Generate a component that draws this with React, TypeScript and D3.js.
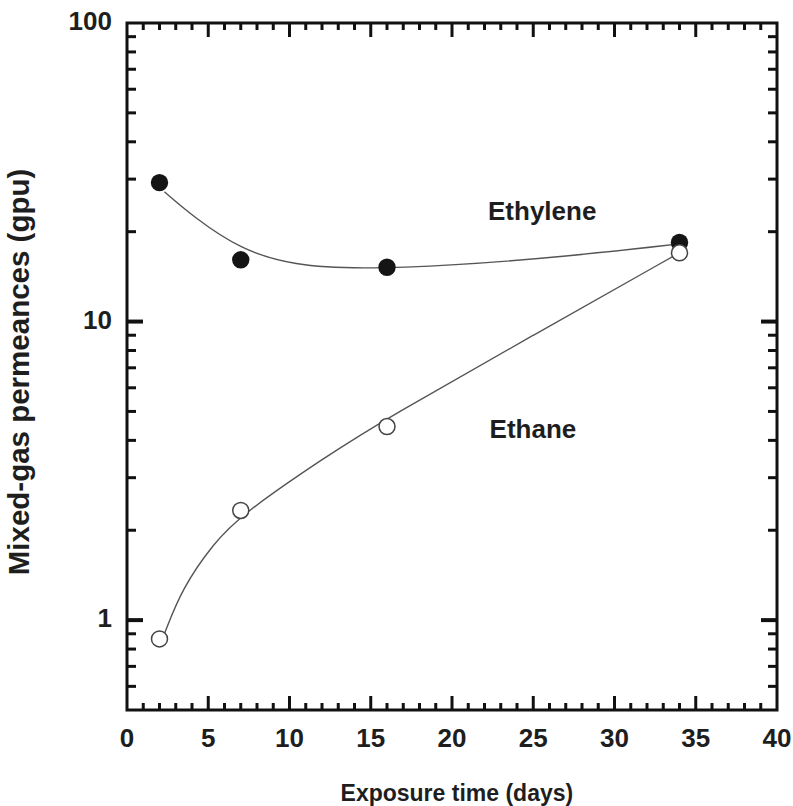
import React, { useEffect, useRef } from "react";
import * as d3 from "d3";

// measured points
const days = [2, 7, 16, 34];
const ethylene = [29.2, 16.1, 15.2, 18.4];
const ethane = [0.865, 2.33, 4.45, 17.0];

// hand-drawn fit lines
const ethyleneFitX = [2.3, 4.1, 7, 10.3, 14.3, 20, 27, 34];
const ethyleneFitY = [27.2, 22.4, 17.4, 15.4, 15.0, 15.4, 16.5, 18.2];
const ethaneFitX = [2.3, 3.4, 5.3, 7, 12.3, 16, 25, 34];
const ethaneFitY = [0.9, 1.28, 1.8, 2.25, 3.55, 4.75, 9.0, 17.0];

const xTicksMajor = [0, 5, 10, 15, 20, 25, 30, 35, 40];
const yTicksMajor = [1, 10, 100];

export default function App() {
  const ref = useRef<SVGSVGElement>(null);

  useEffect(() => {
    const svg = d3.select(ref.current);
    svg.selectAll("*").remove();

    const width = 793;
    const height = 806;
    const margin = { top: 23, right: 16, bottom: 96, left: 127 };
    const w = width - margin.left - margin.right;
    const h = height - margin.top - margin.bottom;
    const font = "'Liberation Sans', Arial, sans-serif";
    const ink = "#1e1e1e";

    svg.append("rect").attr("width", width).attr("height", height).attr("fill", "#fff");

    const g = svg.append("g").attr("transform", `translate(${margin.left},${margin.top})`);

    const x = d3.scaleLinear().domain([0, 40]).range([0, w]);
    const y = d3.scaleLog().domain([0.5, 100]).range([h, 0]);

    const xMinor = d3.range(0, 41, 1).filter((d) => d % 5 !== 0);
    const yMinor = [0.6, 0.7, 0.8, 0.9, ...d3.range(2, 10), ...d3.range(20, 100, 10)];

    const tickColor = "#111";

    // x ticks (bottom + top mirrored)
    const xt = g.append("g");
    const addXTicks = (vals: number[], len: number) => {
      vals.forEach((v) => {
        if (v === 0 || v === 40) return;
        xt.append("line").attr("x1", x(v)).attr("x2", x(v)).attr("y1", h).attr("y2", h - len)
          .attr("stroke", tickColor).attr("stroke-width", 3);
        xt.append("line").attr("x1", x(v)).attr("x2", x(v)).attr("y1", 0).attr("y2", len)
          .attr("stroke", tickColor).attr("stroke-width", 3);
      });
    };
    addXTicks(xMinor, 7);
    addXTicks(xTicksMajor, 14);

    // y ticks (left + right mirrored)
    const yt = g.append("g");
    const addYTicks = (vals: number[], len: number, sw: number) => {
      vals.forEach((v) => {
        if (v === 100) return;
        yt.append("line").attr("x1", 0).attr("x2", len).attr("y1", y(v)).attr("y2", y(v))
          .attr("stroke", tickColor).attr("stroke-width", sw);
        yt.append("line").attr("x1", w).attr("x2", w - len).attr("y1", y(v)).attr("y2", y(v))
          .attr("stroke", tickColor).attr("stroke-width", sw);
      });
    };
    addYTicks(yMinor, 9, 3);
    addYTicks(yTicksMajor, 16, 4);

    // frame
    g.append("rect").attr("width", w).attr("height", h).attr("fill", "none")
      .attr("stroke", tickColor).attr("stroke-width", 3);

    // tick labels
    g.append("g").selectAll("text").data(xTicksMajor).enter().append("text")
      .attr("x", (d) => x(d)).attr("y", h + 37)
      .attr("text-anchor", "middle")
      .style("font", `bold 26px ${font}`).attr("fill", ink)
      .text((d) => d);

    g.append("g").selectAll("text").data(yTicksMajor).enter().append("text")
      .attr("x", -15).attr("y", (d) => y(d) - 2).attr("dy", "0.36em")
      .attr("text-anchor", "end")
      .style("font", `bold 26px ${font}`).attr("fill", ink)
      .text((d) => d);

    // axis titles
    g.append("text").attr("x", x(20.3)).attr("y", h + 83).attr("dy", "0.36em")
      .attr("text-anchor", "middle")
      .style("font", `bold 23px ${font}`).attr("fill", ink)
      .text("Exposure time (days)");
    g.append("text")
      .attr("transform", `translate(${-98},${372 - margin.top}) rotate(-90)`)
      .attr("text-anchor", "middle")
      .style("font", `bold 29.5px ${font}`).attr("fill", ink)
      .text("Mixed-gas permeances (gpu)");

    // fit lines
    const line = d3.line<[number, number]>()
      .x((d) => x(d[0])).y((d) => y(d[1]))
      .curve(d3.curveBasis);
    g.append("path")
      .datum(ethyleneFitX.map((v, i) => [v, ethyleneFitY[i]] as [number, number]))
      .attr("d", line).attr("fill", "none").attr("stroke", "#555").attr("stroke-width", 1.4);
    g.append("path")
      .datum(ethaneFitX.map((v, i) => [v, ethaneFitY[i]] as [number, number]))
      .attr("d", line).attr("fill", "none").attr("stroke", "#555").attr("stroke-width", 1.4);

    // markers
    g.append("g").selectAll("circle").data(days).enter().append("circle")
      .attr("cx", (d) => x(d)).attr("cy", (d, i) => y(ethylene[i])).attr("r", 8.7)
      .attr("fill", "#151515");
    g.append("g").selectAll("circle").data(days).enter().append("circle")
      .attr("cx", (d) => x(d)).attr("cy", (d, i) => y(ethane[i])).attr("r", 8)
      .attr("fill", "#fff").attr("stroke", "#444").attr("stroke-width", 1.5);

    // series labels
    g.append("text").attr("x", x(25.55)).attr("y", 220 - margin.top)
      .attr("text-anchor", "middle").style("font", `bold 26px ${font}`).attr("fill", ink)
      .text("Ethylene");
    g.append("text").attr("x", x(24.98)).attr("y", 438 - margin.top)
      .attr("text-anchor", "middle").style("font", `bold 26px ${font}`).attr("fill", ink)
      .text("Ethane");
  }, []);

  return (
    <svg ref={ref} width={793} height={806}
      style={{ position: "absolute", left: 0, top: 0, display: "block" }} />
  );
}
